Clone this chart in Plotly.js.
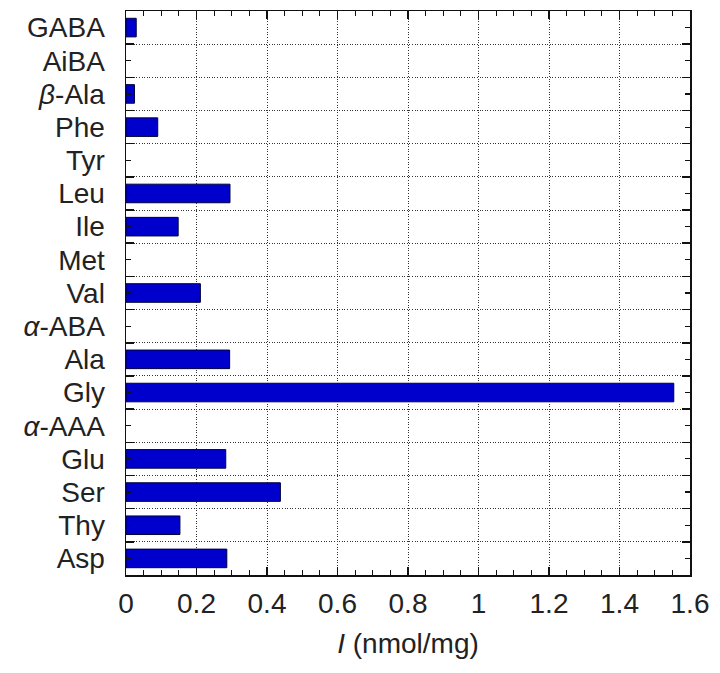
<!DOCTYPE html>
<html>
<head>
<meta charset="utf-8">
<script src="https://cdn.plot.ly/plotly-3.0.1.min.js"></script>
<style>
  html, body { margin: 0; padding: 0; background: #ffffff; }
  #chart { width: 720px; height: 673px; }
</style>
</head>
<body>
<div id="chart"></div>
<script>
// Categories, top to bottom
const categories = [
  "GABA", "AiBA", "<i>β</i>-Ala", "Phe", "Tyr", "Leu", "Ile", "Met", "Val",
  "<i>α</i>-ABA", "Ala", "Gly", "<i>α</i>-AAA", "Glu", "Ser", "Thy", "Asp"
];
// I (nmol/mg)
const values = [
  0.029, 0, 0.024, 0.090, 0, 0.295, 0.148, 0, 0.211,
  0, 0.294, 1.554, 0, 0.283, 0.438, 0.153, 0.286
];
const xTitle = "<i>I</i> (nmol/mg)";

const fontFamily = "Liberation Sans, Arial, Helvetica, sans-serif";
const textColor = "#222222";
const dotDash = "1px,1.6px";

const traces = [
  {
    type: "bar",
    orientation: "h",
    y: categories,
    x: values,
    width: 0.56,
    marker: {
      color: "#0000cc",
      line: { color: "#00003a", width: values.map(v => (v > 0 ? 1 : 0)) }
    },
    xaxis: "x",
    yaxis: "y",
    hoverinfo: "x+y"
  },
  {
    // invisible helper so the minor-tick overlay axis is drawn
    type: "scatter",
    mode: "markers",
    y: categories,
    x: values,
    marker: { opacity: 0, size: 1 },
    xaxis: "x",
    yaxis: "y2",
    hoverinfo: "skip",
    showlegend: false
  }
];

const layout = {
  width: 720,
  height: 673,
  margin: { l: 126, r: 30, t: 11, b: 98 },
  paper_bgcolor: "#ffffff",
  plot_bgcolor: "#ffffff",
  showlegend: false,
  font: { family: fontFamily, color: textColor, size: 28 },
  xaxis: {
    range: [0, 1.6],
    dtick: 0.2,
    tick0: 0,
    ticks: "inside",
    ticklen: 8,
    tickwidth: 1.5,
    tickcolor: "#111",
    showline: true,
    linecolor: "#111",
    linewidth: 1.5,
    mirror: "ticks",
    showgrid: true,
    gridcolor: "#333",
    gridwidth: 1,
    griddash: dotDash,
    zeroline: false,
    tickfont: { size: 28, family: fontFamily, color: textColor },
    ticklabelstandoff: 3,
    minor: { dtick: 0.05, tick0: 0, ticks: "inside", ticklen: 5, tickwidth: 1.2, tickcolor: "#111", showgrid: false },
    title: { text: xTitle, font: { size: 28, family: fontFamily, color: textColor }, standoff: 15 }
  },
  yaxis: {
    type: "category",
    categoryorder: "array",
    categoryarray: categories,
    autorange: "reversed",
    tickmode: "linear",
    dtick: 1,
    tick0: 0,
    tickson: "boundaries",
    ticks: "inside",
    ticklen: 8,
    tickwidth: 1.5,
    tickcolor: "#111",
    showline: true,
    linecolor: "#111",
    linewidth: 1.5,
    mirror: "ticks",
    showgrid: true,
    gridcolor: "#333",
    gridwidth: 1,
    griddash: dotDash,
    zeroline: false,
    tickfont: { size: 28, family: fontFamily, color: textColor },
    ticklabelstandoff: 14
  },
  yaxis2: {
    type: "category",
    categoryorder: "array",
    categoryarray: categories,
    range: [categories.length - 0.5, -0.5],
    overlaying: "y",
    side: "left",
    anchor: "x",
    tickmode: "linear",
    dtick: 1,
    tick0: 0,
    ticks: "inside",
    ticklen: 5,
    tickwidth: 1.2,
    tickcolor: "#111",
    showline: false,
    mirror: "ticks",
    showgrid: false,
    zeroline: false,
    showticklabels: false
  }
};

Plotly.newPlot("chart", traces, layout, { displayModeBar: false, staticPlot: true });
</script>
</body>
</html>
